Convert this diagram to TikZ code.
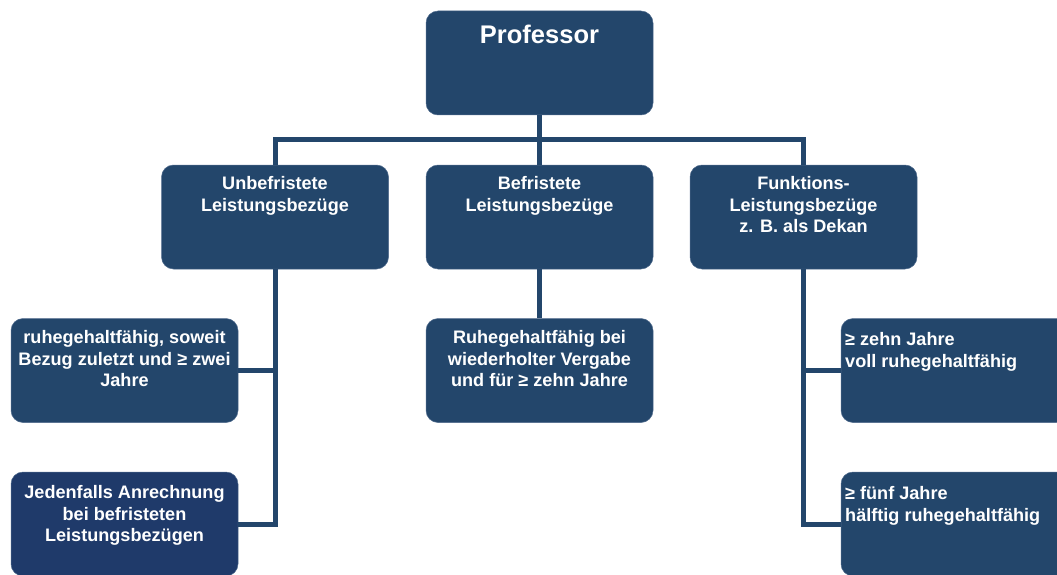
\documentclass[tikz,border=0pt]{standalone}
\usepackage{fontspec}
\setmainfont{Liberation Sans}
\definecolor{boxblue}{HTML}{23466B}
\definecolor{boxdark}{HTML}{1F3A6A}
\definecolor{boxedge}{HTML}{4F6A8C}
\tikzset{
  box/.style={fill=boxblue, draw=boxedge, line width=0.5pt, rounded corners=12pt,
    minimum width=227pt, minimum height=104pt, inner sep=0pt},
  txt/.style={text=white, font=\fontsize{18.1}{21.3}\selectfont\bfseries, align=center,
    anchor=north, inner sep=0pt},
  link/.style={draw=boxblue, line width=5pt}
}
\begin{document}
\begin{tikzpicture}[x=1pt,y=-1pt]
\useasboundingbox (0,0) rectangle (1057,575);
\clip (0,0) rectangle (1057,575);
% boxes
\node[box] (P) at (539.5,63) {};
\node[box] (U) at (275,217) {};
\node[box] (B) at (539.5,217) {};
\node[box] (F) at (803.5,217) {};
\node[box] (L1) at (124.5,370.5) {};
\node[box, fill=boxdark] (L2) at (124.5,524) {};
\node[box] (M1) at (539.5,370.5) {};
\node[box] (R1) at (954.5,370.5) {};
\node[box] (R2) at (954.5,524) {};
% connectors
\coordinate (bus) at (539.5,140);
\draw[link] (P.south) -- (bus);
\draw[link] (bus) -- (B.north);
\draw[link] (U.north) -- (U.north |- bus) -- (F.north |- bus) -- (F.north);
\draw[link] (U.south) |- (L2.east);
\draw[link] (L1.east) -- (L1.east -| U.south);
\draw[link] (B.south) -- (M1.north);
\draw[link] (F.south) |- (R2.west);
\draw[link] (R1.west) -- (R1.west -| F.south);
% texts
\node[txt, font=\fontsize{25.5}{30}\selectfont\bfseries] (tP) at (539.5,25) {Professor};
\node[txt] (tU) at (275,176.5) {Unbefristete\\Leistungsbezüge};
\node[txt] (tB) at (539.5,176.5) {Befristete\\Leistungsbezüge};
\node[txt] (tF) at (803.5,176.5) {Funktions-\\Leistungsbezüge\\z. B. als Dekan};
\node[txt] (tL1) at (124.5,330.5) {ruhegehaltfähig, soweit\\Bezug zuletzt und ≥ zwei\\Jahre};
\node[txt] (tL2) at (124.5,485.5) {Jedenfalls Anrechnung\\bei befristeten\\Leistungsbezügen};
\node[txt] (tM1) at (539.5,330.5) {Ruhegehaltfähig bei\\wiederholter Vergabe\\und für ≥ zehn Jahre};
\node[txt, align=left, anchor=north west] (tR1) at (845,332.5) {≥ zehn Jahre\\voll ruhegehaltfähig};
\node[txt, align=left, anchor=north west] (tR2) at (845,486.5) {≥ fünf Jahre\\hälftig ruhegehaltfähig};
\end{tikzpicture}
\end{document}
